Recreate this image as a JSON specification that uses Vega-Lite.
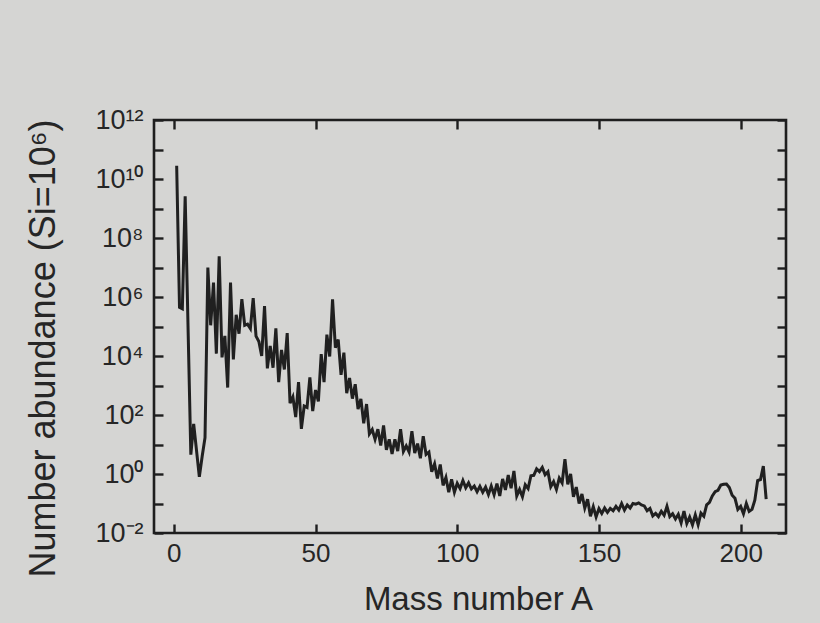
{
  "$schema": "https://vega.github.io/schema/vega-lite/v6.json",
  "width": 632,
  "height": 413,
  "autosize": {"type": "none"},
  "padding": {"left": 154, "top": 120, "right": 34, "bottom": 90},
  "background": "#d5d5d3",
  "config": {
    "view": {"stroke": "#1e1e1e", "strokeWidth": 2.6},
    "font": "Liberation Sans",
    "axis": {
      "grid": false,
      "domain": false,
      "tickColor": "#1e1e1e",
      "tickWidth": 2.4,
      "tickSize": -9,
      "labelFont": "Liberation Sans",
      "labelColor": "#262626",
      "labelFontSize": 26,
      "titleFont": "Liberation Sans",
      "titleColor": "#262626",
      "titleFontWeight": "normal",
      "titleFontSize": 33,
      "labelOverlap": false
    }
  },
  "data": {
    "values": [
      {"A": 1, "abundance": 2.8e10}, {"A": 2, "abundance": 4.5e5}, {"A": 3, "abundance": 4.0e5},
      {"A": 4, "abundance": 2.6e9}, {"A": 6, "abundance": 4.5}, {"A": 7, "abundance": 50},
      {"A": 9, "abundance": 0.8}, {"A": 10, "abundance": 4}, {"A": 11, "abundance": 17},
      {"A": 12, "abundance": 1.0e7}, {"A": 13, "abundance": 1.1e5}, {"A": 14, "abundance": 3.1e6},
      {"A": 15, "abundance": 1.2e4}, {"A": 16, "abundance": 2.4e7}, {"A": 17, "abundance": 9.0e3},
      {"A": 18, "abundance": 4.8e4}, {"A": 19, "abundance": 850}, {"A": 20, "abundance": 3.1e6},
      {"A": 21, "abundance": 7.6e3}, {"A": 22, "abundance": 2.5e5}, {"A": 23, "abundance": 5.7e4},
      {"A": 24, "abundance": 8.5e5}, {"A": 25, "abundance": 1.1e5}, {"A": 26, "abundance": 1.2e5},
      {"A": 27, "abundance": 8.5e4}, {"A": 28, "abundance": 9.2e5}, {"A": 29, "abundance": 4.7e4},
      {"A": 30, "abundance": 3.1e4}, {"A": 31, "abundance": 1.0e4}, {"A": 32, "abundance": 4.9e5},
      {"A": 33, "abundance": 3.8e3}, {"A": 34, "abundance": 2.2e4}, {"A": 35, "abundance": 4.0e3},
      {"A": 36, "abundance": 8.6e4}, {"A": 37, "abundance": 1.3e3}, {"A": 38, "abundance": 1.6e4},
      {"A": 39, "abundance": 3.5e3}, {"A": 40, "abundance": 6.0e4}, {"A": 41, "abundance": 250},
      {"A": 42, "abundance": 410}, {"A": 43, "abundance": 85}, {"A": 44, "abundance": 1300},
      {"A": 45, "abundance": 34}, {"A": 46, "abundance": 200}, {"A": 47, "abundance": 180},
      {"A": 48, "abundance": 1900}, {"A": 49, "abundance": 135}, {"A": 50, "abundance": 700},
      {"A": 51, "abundance": 290}, {"A": 52, "abundance": 1.15e4}, {"A": 53, "abundance": 1.3e3},
      {"A": 54, "abundance": 5.3e4}, {"A": 55, "abundance": 9.6e3}, {"A": 56, "abundance": 8.3e5},
      {"A": 57, "abundance": 1.9e4}, {"A": 58, "abundance": 3.6e4}, {"A": 59, "abundance": 2.3e3},
      {"A": 60, "abundance": 1.3e4}, {"A": 61, "abundance": 550}, {"A": 62, "abundance": 1.8e3},
      {"A": 63, "abundance": 360}, {"A": 64, "abundance": 1.1e3}, {"A": 65, "abundance": 160},
      {"A": 66, "abundance": 350}, {"A": 67, "abundance": 52}, {"A": 68, "abundance": 235},
      {"A": 69, "abundance": 23}, {"A": 70, "abundance": 32}, {"A": 71, "abundance": 15},
      {"A": 72, "abundance": 33}, {"A": 73, "abundance": 9.3}, {"A": 74, "abundance": 44},
      {"A": 75, "abundance": 6.6}, {"A": 76, "abundance": 15}, {"A": 77, "abundance": 4.8},
      {"A": 78, "abundance": 15}, {"A": 79, "abundance": 6}, {"A": 80, "abundance": 33},
      {"A": 81, "abundance": 5.8}, {"A": 82, "abundance": 9}, {"A": 83, "abundance": 5.6},
      {"A": 84, "abundance": 28}, {"A": 85, "abundance": 5.1}, {"A": 86, "abundance": 10.7},
      {"A": 87, "abundance": 3.4}, {"A": 88, "abundance": 19}, {"A": 89, "abundance": 4.6},
      {"A": 90, "abundance": 5.5}, {"A": 91, "abundance": 1.2}, {"A": 92, "abundance": 2.2},
      {"A": 93, "abundance": 0.7}, {"A": 94, "abundance": 2.1}, {"A": 95, "abundance": 0.41},
      {"A": 96, "abundance": 0.76}, {"A": 97, "abundance": 0.24}, {"A": 98, "abundance": 0.66},
      {"A": 99, "abundance": 0.24}, {"A": 100, "abundance": 0.48}, {"A": 101, "abundance": 0.32},
      {"A": 102, "abundance": 0.6}, {"A": 103, "abundance": 0.34}, {"A": 104, "abundance": 0.5},
      {"A": 105, "abundance": 0.31}, {"A": 106, "abundance": 0.39}, {"A": 107, "abundance": 0.25},
      {"A": 108, "abundance": 0.38}, {"A": 109, "abundance": 0.24}, {"A": 110, "abundance": 0.36},
      {"A": 111, "abundance": 0.2}, {"A": 112, "abundance": 0.39}, {"A": 113, "abundance": 0.2},
      {"A": 114, "abundance": 0.47}, {"A": 115, "abundance": 0.18}, {"A": 116, "abundance": 0.68},
      {"A": 117, "abundance": 0.29}, {"A": 118, "abundance": 0.92}, {"A": 119, "abundance": 0.33},
      {"A": 120, "abundance": 1.26}, {"A": 121, "abundance": 0.18}, {"A": 122, "abundance": 0.3},
      {"A": 123, "abundance": 0.17}, {"A": 124, "abundance": 0.43}, {"A": 125, "abundance": 0.32},
      {"A": 126, "abundance": 0.87}, {"A": 127, "abundance": 0.9}, {"A": 128, "abundance": 1.5},
      {"A": 129, "abundance": 1.2}, {"A": 130, "abundance": 1.66}, {"A": 131, "abundance": 0.95},
      {"A": 132, "abundance": 1.2}, {"A": 133, "abundance": 0.37}, {"A": 134, "abundance": 0.55},
      {"A": 135, "abundance": 0.3}, {"A": 136, "abundance": 0.72}, {"A": 137, "abundance": 0.5},
      {"A": 138, "abundance": 3.2}, {"A": 139, "abundance": 0.45}, {"A": 140, "abundance": 1.0},
      {"A": 141, "abundance": 0.17}, {"A": 142, "abundance": 0.36}, {"A": 143, "abundance": 0.1},
      {"A": 144, "abundance": 0.21}, {"A": 145, "abundance": 0.07}, {"A": 146, "abundance": 0.14},
      {"A": 147, "abundance": 0.037}, {"A": 148, "abundance": 0.078}, {"A": 149, "abundance": 0.035},
      {"A": 150, "abundance": 0.067}, {"A": 151, "abundance": 0.046}, {"A": 152, "abundance": 0.07},
      {"A": 153, "abundance": 0.05}, {"A": 154, "abundance": 0.068}, {"A": 155, "abundance": 0.057},
      {"A": 156, "abundance": 0.08}, {"A": 157, "abundance": 0.06}, {"A": 158, "abundance": 0.1},
      {"A": 159, "abundance": 0.06}, {"A": 160, "abundance": 0.089}, {"A": 161, "abundance": 0.07},
      {"A": 162, "abundance": 0.1}, {"A": 163, "abundance": 0.095}, {"A": 164, "abundance": 0.105},
      {"A": 165, "abundance": 0.089}, {"A": 166, "abundance": 0.083}, {"A": 167, "abundance": 0.057},
      {"A": 168, "abundance": 0.068}, {"A": 169, "abundance": 0.038}, {"A": 170, "abundance": 0.046},
      {"A": 171, "abundance": 0.036}, {"A": 172, "abundance": 0.054}, {"A": 173, "abundance": 0.04},
      {"A": 174, "abundance": 0.08}, {"A": 175, "abundance": 0.036}, {"A": 176, "abundance": 0.045},
      {"A": 177, "abundance": 0.03}, {"A": 178, "abundance": 0.043}, {"A": 179, "abundance": 0.022},
      {"A": 180, "abundance": 0.055}, {"A": 181, "abundance": 0.021}, {"A": 182, "abundance": 0.035},
      {"A": 183, "abundance": 0.019}, {"A": 184, "abundance": 0.041}, {"A": 185, "abundance": 0.019},
      {"A": 186, "abundance": 0.047}, {"A": 187, "abundance": 0.037}, {"A": 188, "abundance": 0.09},
      {"A": 189, "abundance": 0.11}, {"A": 190, "abundance": 0.18}, {"A": 191, "abundance": 0.25},
      {"A": 192, "abundance": 0.28}, {"A": 193, "abundance": 0.42}, {"A": 194, "abundance": 0.45},
      {"A": 195, "abundance": 0.46}, {"A": 196, "abundance": 0.35}, {"A": 197, "abundance": 0.19},
      {"A": 198, "abundance": 0.15}, {"A": 199, "abundance": 0.063}, {"A": 200, "abundance": 0.08},
      {"A": 201, "abundance": 0.045}, {"A": 202, "abundance": 0.1}, {"A": 203, "abundance": 0.054},
      {"A": 204, "abundance": 0.063}, {"A": 205, "abundance": 0.13}, {"A": 206, "abundance": 0.6},
      {"A": 207, "abundance": 0.65}, {"A": 208, "abundance": 1.85}, {"A": 209, "abundance": 0.14}
    ]
  },
  "layer": [
    {
      "mark": {"type": "line", "stroke": "#202020", "strokeWidth": 3, "strokeJoin": "miter", "clip": true},
      "encoding": {
        "x": {
          "field": "A", "type": "quantitative",
          "scale": {"domain": [-7, 216], "nice": false, "zero": false},
          "axis": {
            "orient": "bottom",
            "values": [0, 50, 100, 150, 200],
            "labelPadding": 16,
            "title": "Mass number A",
            "titleX": 324,
            "titleY": 50,
            "titleBaseline": "top"
          }
        },
        "y": {
          "field": "abundance", "type": "quantitative",
          "scale": {"type": "log", "domain": [0.01, 1e12], "nice": false},
          "axis": {
            "orient": "left",
            "values": [0.01, 0.1, 1, 10, 100, 1000, 10000, 100000, 1000000, 10000000, 100000000, 1000000000, 10000000000, 100000000000, 1000000000000],
            "labelExpr": "['10⁻²', '', '10⁰', '', '10²', '', '10⁴', '', '10⁶', '', '10⁸', '', '10¹⁰', '', '10¹²'][round(log(datum.value) / LN10) + 2]",
            "labelPadding": 20,
            "labelFontSize": 27,
            "title": "Number abundance (Si=10⁶)",
            "titleFontSize": 36,
            "titleAngle": -90,
            "titleX": -92,
            "titleY": 228,
            "titleBaseline": "bottom"
          }
        }
      }
    },
    {
      "mark": {"type": "line", "strokeOpacity": 0},
      "encoding": {
        "x": {
          "field": "A", "type": "quantitative",
          "axis": {"orient": "top", "values": [0, 50, 100, 150, 200], "labels": false, "title": null}
        },
        "y": {
          "field": "abundance", "type": "quantitative",
          "axis": {
            "orient": "right",
            "values": [0.01, 0.1, 1, 10, 100, 1000, 10000, 100000, 1000000, 10000000, 100000000, 1000000000, 10000000000, 100000000000, 1000000000000],
            "labels": false,
            "title": null
          }
        }
      }
    }
  ],
  "resolve": {"axis": {"x": "independent", "y": "independent"}}
}
